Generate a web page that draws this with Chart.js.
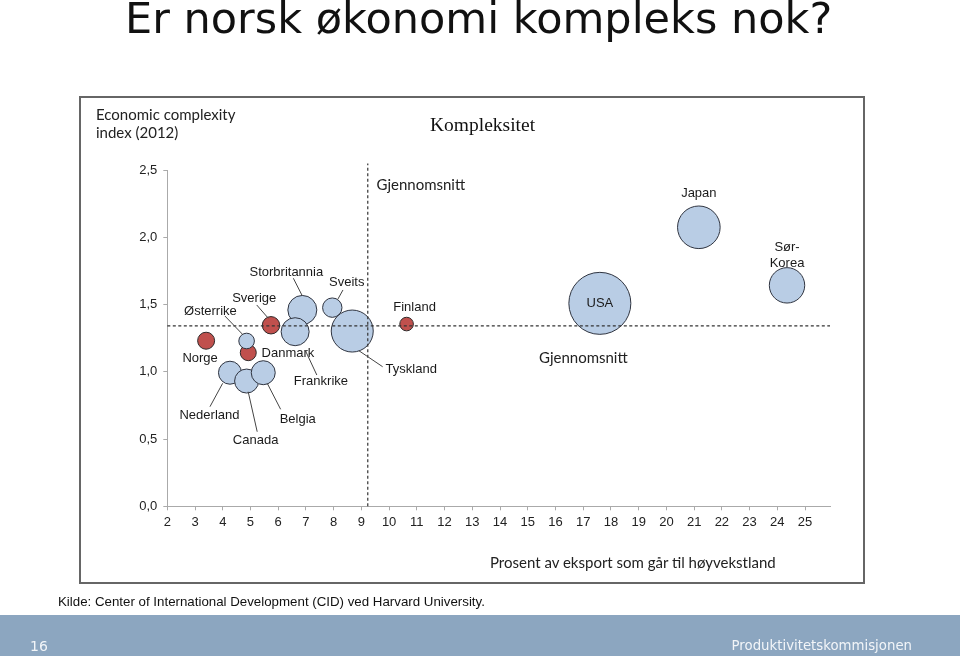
<!DOCTYPE html>
<html>
<head>
<meta charset="utf-8">
<script src="https://cdn.jsdelivr.net/npm/chart.js@4.4.1/dist/chart.umd.min.js"></script>
<style>
html,body{margin:0;padding:0;width:960px;height:656px;overflow:hidden;background:#fff;position:relative}
.t{position:absolute;white-space:nowrap;line-height:0;z-index:3}
.lato{font-family:Lato;font-size:15px;color:#222}
#box{position:absolute;left:79px;top:96px;width:786px;height:488px;box-sizing:border-box;border:2px solid #666;background:#fff}
#bar{position:absolute;left:0;top:615px;width:960px;height:41px;background:#8ca6c0}
#c{position:absolute;left:0;top:0;z-index:2}
</style>
</head>
<body>
<div class="t" style="left:125px;top:18.1px;font-family:'DejaVu Sans';font-size:43px;color:#111">Er norsk økonomi kompleks nok?</div>
<div id="box"></div>
<div class="t lato" style="left:96px;top:113.5px">Economic complexity</div>
<div class="t lato" style="left:96px;top:131.7px">index (2012)</div>
<div class="t" style="left:430px;top:125.1px;font-family:'Liberation Serif';font-size:19.5px;color:#111">Kompleksitet</div>
<div class="t lato" style="left:376.5px;top:183.5px">Gjennomsnitt</div>
<div class="t lato" style="left:539px;top:356.5px">Gjennomsnitt</div>
<div class="t lato" style="left:490px;top:561.9px">Prosent av eksport som går til høyvekstland</div>
<div class="t" style="left:58px;top:601.7px;font-family:'Liberation Sans';font-size:13.3px;color:#111">Kilde: Center of International Development (CID) ved Harvard University.</div>
<div id="bar"></div>
<div class="t" style="left:30px;top:646.2px;font-family:'DejaVu Sans';font-size:14px;color:#f2f5f8">16</div>
<div class="t" style="right:48px;top:646.4px;font-family:'DejaVu Sans';font-size:13.3px;color:#f2f5f8">Produktivitetskommisjonen</div>
<canvas id="c" width="960" height="656"></canvas>
<script>
// ---- data ----
const countries   = ['Norge','Østerrike','Danmark','Sverige','Storbritannia','Frankrike','Sveits','Tyskland','Finland','Nederland','Canada','Belgia','Japan','Sør-Korea','USA'];
const exportShare = [3.40, 4.86, 4.92, 5.74, 6.87, 6.61, 7.95, 8.67, 10.63, 4.26, 4.86, 5.46, 21.17, 24.35, 17.60];
const complexity  = [1.232, 1.230, 1.143, 1.347, 1.461, 1.299, 1.478, 1.304, 1.356, 0.994, 0.932, 0.994, 2.076, 1.644, 1.510];
const bubbleSize  = [8.5, 7.8, 8, 8.7, 14.5, 14, 9.7, 21, 6.8, 11.5, 12, 12, 21.3, 17.7, 31];
const group       = ['nordic','other','nordic','nordic','other','other','other','other','nordic','other','other','other','other','other','other'];
const avgExportShare = 9.23;
const avgComplexity  = 1.343;
const xTicks = [2,3,4,5,6,7,8,9,10,11,12,13,14,15,16,17,18,19,20,21,22,23,24,25];
const yTicks = [0, 0.5, 1, 1.5, 2, 2.5];
const yTickLabels = ['0,0','0,5','1,0','1,5','2,0','2,5'];

// ---- label layout (pixel offsets from bubble centre) ----
const labelLayout = {
  'Norge':        {dx:-6,  dy:17.6},
  'Østerrike':    {dx:-36.2, dy:-30, lead:[-21.7,-25,-3.4,-6]},
  'Danmark':      {dx:39.7, dy:0.6},
  'Sverige':      {dx:-16.8, dy:-27, lead:[-14.3,-20.3,-2.7,-7]},
  'Storbritannia':{dx:-16, dy:-37.3, lead:[-9,-31.7,0,-14]},
  'Frankrike':    {dx:25.8, dy:49.3, lead:[10,18.3,21.7,43.3]},
  'Sveits':       {dx:14.4, dy:-25, lead:[10.7,-17.7,5.7,-8.7]},
  'Tyskland':     {dx:59, dy:38, lead:[6.7,19.7,30.4,35.7]},
  'Finland':      {dx:8, dy:-16.3},
  'Nederland':    {dx:-20.5, dy:43, lead:[-20,34,-7.3,10.6]},
  'Canada':       {dx:9, dy:59.7, lead:[10.6,50.7,1.6,10.7]},
  'Belgia':       {dx:34.5, dy:46.3, lead:[17.4,36.6,4,10.6]},
  'Japan':        {dx:0, dy:-34},
  'Sør-Korea':    {dx:0, dy:-30, lines:['Sør-','Korea']},
  'USA':          {dx:0, dy:0}
};

function pointsFor(g){
  const pts = [];
  countries.forEach((name,i)=>{ if(group[i]===g) pts.push({x:exportShare[i], y:complexity[i], r:bubbleSize[i], name}); });
  return pts;
}

const overlay = {
  id:'overlay',
  afterDatasetsDraw(chart){
    const ctx = chart.ctx, xs = chart.scales.x, ys = chart.scales.y;
    ctx.save();
    // average lines
    ctx.strokeStyle = '#333'; ctx.lineWidth = 1.2; ctx.setLineDash([3,2.5]);
    ctx.beginPath();
    ctx.moveTo(xs.getPixelForValue(xs.min), ys.getPixelForValue(avgComplexity));
    ctx.lineTo(xs.getPixelForValue(xs.max), ys.getPixelForValue(avgComplexity));
    ctx.moveTo(xs.getPixelForValue(avgExportShare), ys.getPixelForValue(0));
    ctx.lineTo(xs.getPixelForValue(avgExportShare), ys.getPixelForValue(2.55));
    ctx.stroke();
    ctx.setLineDash([]);
    // labels
    ctx.font = "13px 'Liberation Sans'";
    ctx.fillStyle = '#1a1a1a'; ctx.strokeStyle = '#444'; ctx.lineWidth = 1;
    ctx.textAlign = 'center'; ctx.textBaseline = 'middle';
    countries.forEach((name,i)=>{
      const L = labelLayout[name]; if(!L) return;
      const cx = xs.getPixelForValue(exportShare[i]), cy = ys.getPixelForValue(complexity[i]);
      if(L.lead){
        ctx.beginPath(); ctx.moveTo(cx+L.lead[0], cy+L.lead[1]); ctx.lineTo(cx+L.lead[2], cy+L.lead[3]); ctx.stroke();
      }
      const lines = L.lines || [name];
      const lh = 15.4, y0 = cy + L.dy - (lines.length-1)*lh/2;
      lines.forEach((t,k)=> ctx.fillText(t, cx+L.dx, y0 + k*lh));
    });
    ctx.restore();
  }
};

const tickFont = {family:'Liberation Sans', size:13};
new Chart(document.getElementById('c'), {
  type:'bubble',
  data:{ datasets:[
    {label:'Øvrige', data:pointsFor('other'), backgroundColor:'#b9cde5', borderColor:'#2f3440', borderWidth:1},
    {label:'Norden', data:pointsFor('nordic'), backgroundColor:'#c0504d', borderColor:'#2f2a2a', borderWidth:1}
  ]},
  options:{
    responsive:false, animation:false, events:[],
    layout:{autoPadding:false, padding:{left:117.3, right:130, top:170.3, bottom:109.7}},
    plugins:{legend:{display:false}, tooltip:{enabled:false}, title:{display:false}},
    scales:{
      x:{type:'linear', min:2, max:25.9,
        afterBuildTicks:s=>{ s.ticks = xTicks.map(v=>({value:v})); },
        afterFit:s=>{ s.height = 40; },
        ticks:{font:tickFont, color:'#222', padding:4, autoSkip:false, maxRotation:0, callback:v=>String(v)},
        grid:{drawOnChartArea:false, drawTicks:true, tickLength:4, color:'#aaa'},
        border:{display:true, color:'#aaa'}},
      y:{type:'linear', min:0, max:2.5,
        afterBuildTicks:s=>{ s.ticks = yTicks.map(v=>({value:v})); },
        afterFit:s=>{ s.width = 50; },
        ticks:{font:tickFont, color:'#222', padding:6, autoSkip:false, callback:v=>yTickLabels[yTicks.indexOf(v)]},
        grid:{drawOnChartArea:false, drawTicks:true, tickLength:4, color:'#aaa'},
        border:{display:true, color:'#aaa'}}
    }
  },
  plugins:[overlay]
});
</script>
</body>
</html>
